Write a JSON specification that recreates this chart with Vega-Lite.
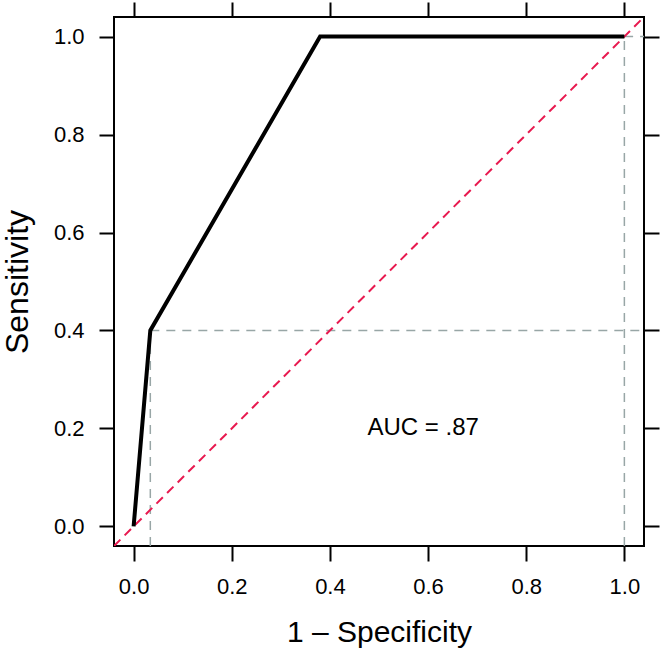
{
  "$schema": "https://vega.github.io/schema/vega-lite/v6.json",
  "width": 530,
  "height": 529,
  "autosize": {"type": "none"},
  "padding": {"left": 114, "top": 17, "right": 20, "bottom": 108},
  "background": "white",
  "config": {
    "view": {"stroke": "black", "strokeWidth": 2},
    "axis": {
      "domain": false,
      "grid": false,
      "ticks": true,
      "tickColor": "black",
      "tickWidth": 2,
      "tickSize": 15,
      "labelFont": "Liberation Sans",
      "labelFontSize": 22,
      "labelColor": "black",
      "titleFont": "Liberation Sans",
      "titleFontWeight": "normal",
      "titleColor": "black"
    }
  },
  "datasets": {
    "roc": [
      {"fpr": 0, "tpr": 0},
      {"fpr": 0.034, "tpr": 0.4},
      {"fpr": 0.38, "tpr": 1},
      {"fpr": 1, "tpr": 1}
    ],
    "guides": [
      {"x": 0.034, "x2": 0.034, "y": -0.04, "y2": 0.4},
      {"x": 0.034, "x2": 1.04, "y": 0.4, "y2": 0.4},
      {"x": 1, "x2": 1, "y": -0.04, "y2": 1},
      {"x": 0.38, "x2": 1.04, "y": 1, "y2": 1}
    ],
    "diag": [
      {"x": -0.04, "y": -0.04},
      {"x": 1.04, "y": 1.04}
    ],
    "label": [
      {"x": 0.59, "y": 0.2, "text": "AUC = .87"}
    ]
  },
  "layer": [
    {
      "data": {"name": "guides"},
      "mark": {"type": "rule", "color": "#98a6a6", "strokeWidth": 1.5, "strokeDash": [9, 7], "clip": true},
      "encoding": {
        "x": {"field": "x", "type": "quantitative", "scale": {"domain": [-0.04, 1.04], "nice": false, "zero": false},
          "axis": {"values": [0, 0.2, 0.4, 0.6, 0.8, 1.0], "format": ".1f", "title": "1 – Specificity", "titleFontSize": 30, "labelPadding": 15, "titlePadding": 20}},
        "x2": {"field": "x2"},
        "y": {"field": "y", "type": "quantitative", "scale": {"domain": [-0.04, 1.04], "nice": false, "zero": false},
          "axis": {"values": [0, 0.2, 0.4, 0.6, 0.8, 1.0], "format": ".1f", "title": "Sensitivity", "titleFontSize": 32, "labelPadding": 15, "titlePadding": 19}},
        "y2": {"field": "y2"}
      }
    },
    {
      "data": {"name": "diag"},
      "mark": {"type": "line", "color": "#E8194F", "strokeWidth": 2, "strokeDash": [9, 6], "clip": true},
      "encoding": {
        "x": {"field": "x", "type": "quantitative", "axis": {"orient": "top", "values": [0, 0.2, 0.4, 0.6, 0.8, 1.0], "labels": false, "title": null}},
        "y": {"field": "y", "type": "quantitative", "axis": {"orient": "right", "values": [0, 0.2, 0.4, 0.6, 0.8, 1.0], "labels": false, "title": null}}
      }
    },
    {
      "data": {"name": "roc"},
      "mark": {"type": "line", "color": "black", "strokeWidth": 4, "clip": true},
      "encoding": {
        "x": {"field": "fpr", "type": "quantitative", "axis": null},
        "y": {"field": "tpr", "type": "quantitative", "axis": null}
      }
    },
    {
      "data": {"name": "label"},
      "mark": {"type": "text", "font": "Liberation Sans", "fontSize": 24, "color": "black", "align": "center", "baseline": "middle"},
      "encoding": {
        "x": {"field": "x", "type": "quantitative", "axis": null},
        "y": {"field": "y", "type": "quantitative", "axis": null},
        "text": {"field": "text"}
      }
    }
  ],
  "resolve": {"axis": {"x": "independent", "y": "independent"}}
}
